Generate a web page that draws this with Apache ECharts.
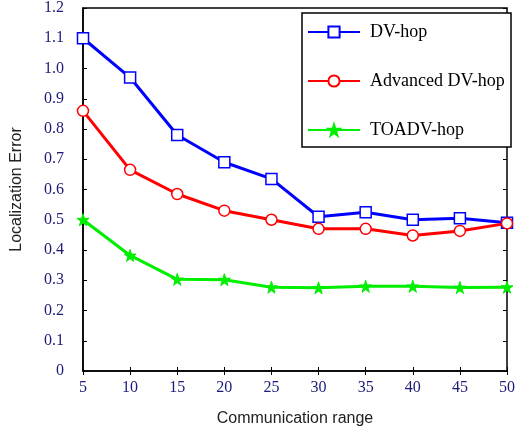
<!DOCTYPE html>
<html>
<head>
<meta charset="utf-8">
<script src="https://cdn.jsdelivr.net/npm/echarts@6/dist/echarts.min.js"></script>
<style>
html,body{margin:0;padding:0;background:#fff;}
#chart{width:518px;height:432px;}
</style>
</head>
<body>
<div id="chart"></div>
<script>
var xValues = [5, 10, 15, 20, 25, 30, 35, 40, 45, 50];
var dvHop = [1.10, 0.97, 0.78, 0.69, 0.635, 0.51, 0.525, 0.50, 0.505, 0.49];
var advancedDvHop = [0.86, 0.665, 0.585, 0.53, 0.50, 0.47, 0.47, 0.448, 0.463, 0.488];
var toadvHop = [0.50, 0.382, 0.303, 0.302, 0.277, 0.275, 0.28, 0.28, 0.276, 0.277];
var seriesNames = ['DV-hop', 'Advanced DV-hop', 'TOADV-hop'];

function zip(xs, ys) { return xs.map(function (x, i) { return [x, ys[i]]; }); }

var chart = echarts.init(document.getElementById('chart'), null, {renderer: 'canvas'});
var tickFont = {color: '#1c1c78', fontFamily: 'Liberation Serif', fontSize: 16};
var option = {
  animation: false,
  backgroundColor: '#fff',
  grid: {left: 83, right: 4, top: 7, bottom: 60, show: true, borderColor: '#000', borderWidth: 1.5},
  graphic: [{
    type: 'rect', z: 3,
    shape: {x: 302, y: 13, width: 209, height: 134},
    style: {fill: '#fff', stroke: '#000', lineWidth: 1.5}
  }],
  legend: {
    data: seriesNames,
    orient: 'vertical',
    left: 307, top: 23,
    padding: 0,
    itemWidth: 52, itemHeight: 14, itemGap: 31,
    z: 10,
    textStyle: {fontFamily: 'Liberation Serif', fontSize: 18, color: '#000', padding: [0, 0, 0, 5]}
  },
  xAxis: [{
    type: 'value', min: 5, max: 50, interval: 5,
    name: 'Communication range', nameLocation: 'middle', nameGap: 40,
    nameTextStyle: {fontFamily: 'Liberation Sans', fontSize: 16, color: '#222'},
    axisLine: {show: true, lineStyle: {color: '#000', width: 1.5}},
    axisTick: {show: true, inside: true, length: 4, lineStyle: {color: '#000'}},
    axisLabel: Object.assign({margin: 9}, tickFont),
    splitLine: {show: false}
  }, {
    type: 'value', position: 'top', min: 5, max: 50, interval: 5,
    axisLine: {show: false},
    axisTick: {show: true, inside: true, length: 4, lineStyle: {color: '#000'}},
    axisLabel: {show: false}, splitLine: {show: false}
  }],
  yAxis: [{
    type: 'value', min: 0, max: 1.2, interval: 0.1,
    name: 'Localization Error', nameLocation: 'middle', nameGap: 58,
    nameTextStyle: {fontFamily: 'Liberation Sans', fontSize: 16, color: '#222'},
    axisLine: {show: true, lineStyle: {color: '#000', width: 1.5}},
    axisTick: {show: true, inside: true, length: 4, lineStyle: {color: '#000'}},
    axisLabel: Object.assign({margin: 19, padding: [7, 0, 0, 0], formatter: function (v) { return v === 0 ? '0' : v.toFixed(1); }}, tickFont),
    splitLine: {show: false}
  }, {
    type: 'value', position: 'right', min: 0, max: 1.2, interval: 0.1,
    axisLine: {show: false},
    axisTick: {show: true, inside: true, length: 4, lineStyle: {color: '#000'}},
    axisLabel: {show: false}, splitLine: {show: false}
  }],
  series: [{
    name: seriesNames[0], type: 'line', data: zip(xValues, dvHop),
    symbol: 'rect', symbolSize: 11, showSymbol: true,
    lineStyle: {color: '#0000ff', width: 3},
    itemStyle: {color: '#fff', borderColor: '#0000ff', borderWidth: 1.5}
  }, {
    name: seriesNames[1], type: 'line', data: zip(xValues, advancedDvHop),
    symbol: 'circle', symbolSize: 11,
    lineStyle: {color: '#ff0000', width: 3},
    itemStyle: {color: '#fff', borderColor: '#ff0000', borderWidth: 1.5}
  }, {
    name: seriesNames[2], type: 'line', data: zip(xValues, toadvHop),
    symbol: 'path://M50,0 L61,35 L98,35 L68,57 L79,91 L50,70 L21,91 L32,57 L2,35 L39,35 Z', symbolSize: 12,
    lineStyle: {color: '#00ee00', width: 3},
    itemStyle: {color: '#00ee00', borderColor: '#00ee00', borderWidth: 1}
  }]
};
chart.setOption(option);
</script>
</body>
</html>
